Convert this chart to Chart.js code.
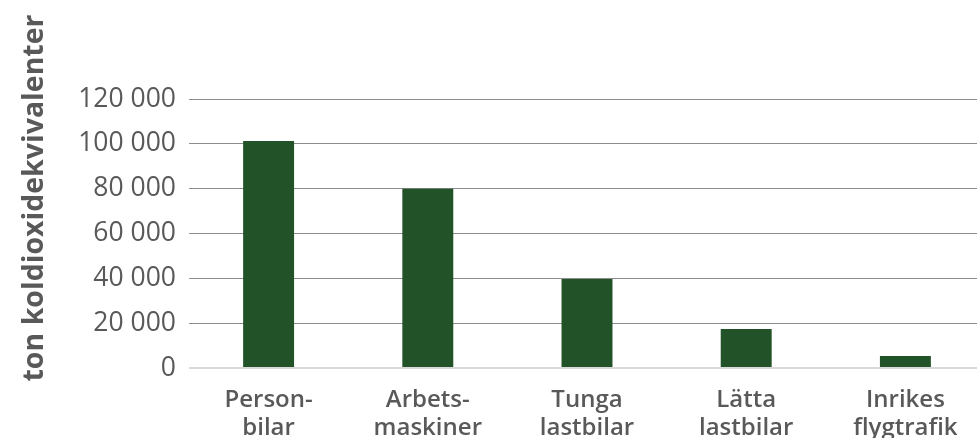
<!DOCTYPE html>
<html>
<head>
<meta charset="utf-8">
<script src="https://cdn.jsdelivr.net/npm/chart.js@4/dist/chart.umd.min.js"></script>
<style>
  html, body { margin: 0; padding: 0; background: #fff; overflow: hidden; }
  #wrap { position: relative; width: 985px; height: 438px; }
</style>
</head>
<body>
<div id="wrap"><canvas id="c"></canvas></div>
<script>
const categories = [['Person-', 'bilar'], ['Arbets-', 'maskiner'], ['Tunga', 'lastbilar'], ['Lätta', 'lastbilar'], ['Inrikes', 'flygtrafik']];
const emissions = [101300, 80000, 39700, 17400, 5400];
const yTicks = [0, 20000, 40000, 60000, 80000, 100000, 120000];
const yTitle = 'ton koldioxidekvivalenter';

const fmt = v => String(v).replace(/\B(?=(\d{3})+(?!\d))/g, ' ');

const titlePlugin = {
  id: 'yTitle',
  afterDraw(chart) {
    const ctx = chart.ctx;
    ctx.save();
    ctx.translate(43, 198);
    ctx.rotate(-Math.PI / 2);
    ctx.font = 'bold 28.5px "Open Sans"';
    ctx.fillStyle = '#595959';
    ctx.textAlign = 'center';
    ctx.textBaseline = 'alphabetic';
    ctx.fillText(yTitle, 0, 0);
    ctx.restore();
  }
};

new Chart(document.getElementById('c'), {
  type: 'bar',
  data: {
    labels: categories,
    datasets: [{
      data: emissions,
      backgroundColor: '#215228',
      barPercentage: 0.32,
      categoryPercentage: 1
    }]
  },
  options: {
    responsive: true,
    maintainAspectRatio: false,
    animation: false,
    layout: { padding: { top: 99, right: 0, bottom: 0, left: 0 } },
    plugins: { legend: { display: false }, tooltip: { enabled: false } },
    scales: {
      x: {
        grid: { display: false, drawTicks: false },
        border: { display: false },
        ticks: {
          color: '#595959',
          font: { family: 'Open Sans', size: 24, weight: '600', lineHeight: 1.17 },
          padding: 18,
          maxRotation: 0,
          autoSkip: false
        },
        afterFit(scale) { scale.height = 70; }
      },
      y: {
        min: 0,
        max: 120000,
        afterBuildTicks(scale) { scale.ticks = yTicks.map(v => ({ value: v })); },
        grid: {
          drawTicks: false,
          color: c => (c.tick && c.tick.value === 0) ? '#d9d9d9' : '#8c8c8c',
          lineWidth: c => (c.tick && c.tick.value === 0) ? 2 : 1
        },
        border: { display: false },
        ticks: {
          color: '#595959',
          font: { family: 'Open Sans', size: 26.5 },
          padding: 13,
          callback: v => fmt(v)
        },
        afterFit(scale) { scale.width = 189; }
      }
    }
  },
  plugins: [titlePlugin]
});
</script>
</body>
</html>
